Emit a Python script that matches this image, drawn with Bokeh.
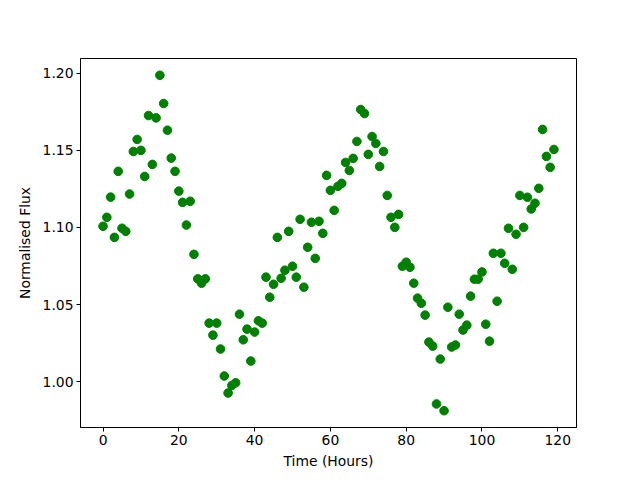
from bokeh.plotting import figure
from bokeh.models import Range1d, FixedTicker, PrintfTickFormatter, ColumnDataSource
from bokeh.embed import file_html
from bokeh.resources import INLINE

hours = list(range(120))
flux = [
    1.1008, 1.1066, 1.1197, 1.0936, 1.1364, 1.0995, 1.0975, 1.1217, 1.1493, 1.1571,
    1.1500, 1.1331, 1.1726, 1.1409, 1.1711, 1.1987, 1.1804, 1.1631, 1.1450, 1.1364,
    1.1236, 1.1163, 1.1016, 1.1170, 1.0826, 1.0667, 1.0639, 1.0667, 1.0380, 1.0302,
    1.0380, 1.0212, 1.0037, 0.9927, 0.9976, 0.9993, 1.0438, 1.0272, 1.0341, 1.0134,
    1.0322, 1.0395, 1.0380, 1.0678, 1.0548, 1.0632, 1.0936, 1.0671, 1.0723, 1.0975,
    1.0749, 1.0678, 1.1053, 1.0613, 1.0872, 1.1034, 1.0800, 1.1040, 1.0962, 1.1338,
    1.1241, 1.1111, 1.1267, 1.1286, 1.1422, 1.1370, 1.1448, 1.1558, 1.1765, 1.1739,
    1.1474, 1.1590, 1.1545, 1.1396, 1.1493, 1.1208, 1.1066, 1.1001, 1.1085, 1.0749,
    1.0775, 1.0742, 1.0639, 1.0542, 1.0509, 1.0432, 1.0257, 1.0231, 0.9856, 1.0147,
    0.9812, 1.0483, 1.0225, 1.0238, 1.0438, 1.0335, 1.0367, 1.0555, 1.0665, 1.0665,
    1.0712, 1.0373, 1.0263, 1.0833, 1.0522, 1.0833, 1.0768, 1.0995, 1.0729, 1.0956,
    1.1208, 1.1001, 1.1196, 1.1120, 1.1157, 1.1254, 1.1636, 1.1461, 1.1390, 1.1506,
]
x_ticks = [0, 20, 40, 60, 80, 100, 120]
y_ticks = [1.00, 1.05, 1.10, 1.15, 1.20]
x_label = "Time (Hours)"
y_label = "Normalised Flux"

xmin, xmax = min(hours), max(hours)
ymin, ymax = min(flux), max(flux)
xm = 0.05 * (xmax - xmin)
ym = 0.05 * (ymax - ymin)

p = figure(width=640, height=480, output_backend="svg", toolbar_location=None,
           x_range=Range1d(xmin - xm, xmax + xm), y_range=Range1d(ymin - ym, ymax + ym),
           min_border_left=80, min_border_right=64, min_border_top=58, min_border_bottom=53)
p.background_fill_color = "white"
p.border_fill_color = "white"
p.outline_line_color = "black"
p.outline_line_width = 1
p.xgrid.visible = False
p.ygrid.visible = False

src = ColumnDataSource(data=dict(x=hours, y=flux))
p.scatter("x", "y", source=src, size=8.6, fill_color="#008000", line_color="#008000", marker="circle")

for ax in (p.xaxis[0], p.yaxis[0]):
    ax.major_tick_in = 0
    ax.major_tick_out = 4
    ax.minor_tick_line_color = None
    ax.axis_line_color = "black"
    ax.major_tick_line_color = "black"
    ax.major_label_text_font = "DejaVu Sans"
    ax.major_label_text_font_size = "13.9px"
    ax.major_label_text_color = "black"
    ax.axis_label_text_font = "DejaVu Sans"
    ax.axis_label_text_font_size = "13.9px"
    ax.axis_label_text_font_style = "normal"
    ax.axis_label_text_color = "black"
    ax.major_label_standoff = 3

p.xaxis[0].ticker = FixedTicker(ticks=x_ticks)
p.yaxis[0].ticker = FixedTicker(ticks=y_ticks)
p.yaxis[0].formatter = PrintfTickFormatter(format="%.2f")
p.xaxis[0].axis_label = x_label
p.yaxis[0].axis_label = y_label
p.xaxis[0].axis_label_standoff = 5
p.yaxis[0].axis_label_standoff = 7

open("out.html", "w").write(file_html(p, INLINE))
